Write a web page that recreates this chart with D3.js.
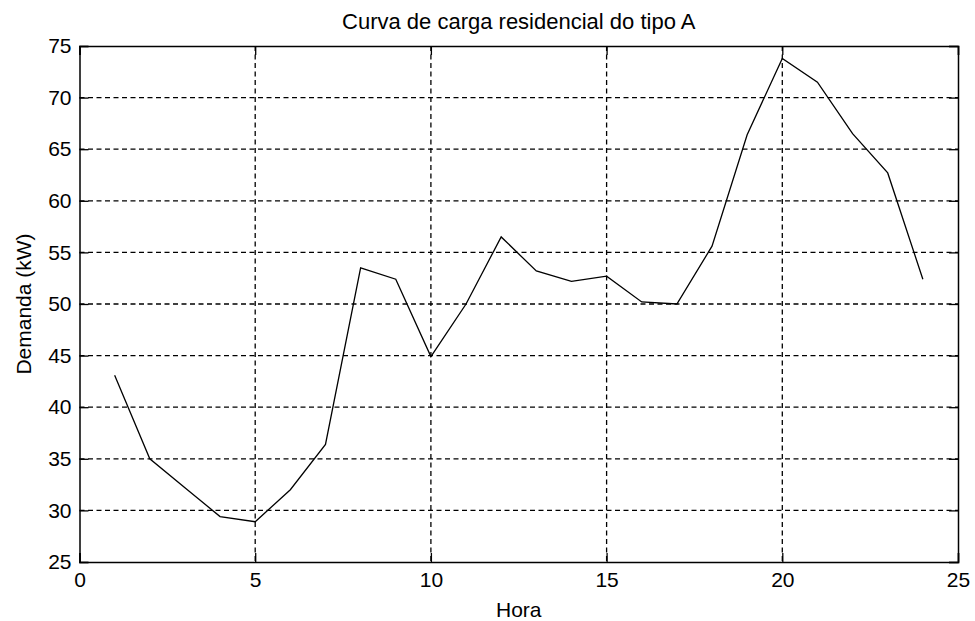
<!DOCTYPE html>
<html>
<head>
<meta charset="utf-8">
<script src="https://cdn.jsdelivr.net/npm/d3@7"></script>
<style>
body{margin:0;background:#fff;}
text{font-family:"Liberation Sans",Arial,sans-serif;fill:#000;}
</style>
</head>
<body>
<svg id="chart" width="975" height="621"></svg>
<script>
const hours=[1,2,3,4,5,6,7,8,9,10,11,12,13,14,15,16,17,18,19,20,21,22,23,24];
const demand=[43.1,35.0,32.2,29.4,28.9,32.0,36.4,53.5,52.4,44.9,50.0,56.5,53.2,52.2,52.7,50.2,50.0,55.6,66.4,73.8,71.5,66.5,62.7,52.4];
const xTicks=[0,5,10,15,20,25];
const yTicks=[25,30,35,40,45,50,55,60,65,70,75];

const svg=d3.select("#chart");
const margin={top:46,right:17,bottom:59,left:79.5};
const width=+svg.attr("width")-margin.left-margin.right;
const height=+svg.attr("height")-margin.top-margin.bottom;
const g=svg.append("g").attr("transform",`translate(${margin.left},${margin.top})`);

const x=d3.scaleLinear().domain([0,25]).range([0,width]);
const y=d3.scaleLinear().domain([25,75]).range([height,0]);

// grid
g.append("g")
    .selectAll("line")
    .data(xTicks.slice(1,-1))
    .enter().append("line")
    .attr("x1",d=>x(d)).attr("x2",d=>x(d))
    .attr("y1",0).attr("y2",height)
    .attr("stroke","#000").attr("stroke-width",1.3)
    .attr("stroke-dasharray","5,3.5");
g.append("g")
    .selectAll("line")
    .data(yTicks.slice(1,-1))
    .enter().append("line")
    .attr("x1",0).attr("x2",width)
    .attr("y1",d=>y(d)).attr("y2",d=>y(d))
    .attr("stroke","#000").attr("stroke-width",1.3)
    .attr("stroke-dasharray","5,3.5");

// axes with inward ticks
const tk=9;
const ax=g.append("g")
    .attr("transform",`translate(0,${height})`)
    .call(d3.axisBottom(x).tickValues(xTicks).tickSize(-tk).tickPadding(10));
const ay=g.append("g")
    .call(d3.axisLeft(y).tickValues(yTicks).tickSize(-tk).tickPadding(8));
const at=g.append("g")
    .call(d3.axisTop(x).tickValues(xTicks).tickSize(-tk).tickFormat(""));
const ar=g.append("g")
    .attr("transform",`translate(${width},0)`)
    .call(d3.axisRight(y).tickValues(yTicks).tickSize(-tk).tickFormat(""));
[ax,ay,at,ar].forEach(a=>{
    a.select(".domain").attr("stroke","#000").attr("stroke-width",1.5);
    a.selectAll(".tick line").attr("stroke","#000").attr("stroke-width",1.3);
    a.selectAll("text").attr("font-size",21).attr("font-family","Liberation Sans, Arial, sans-serif").attr("fill","#000");
});

// line
const line=d3.line()
    .x((d,i)=>x(hours[i]))
    .y(d=>y(d));
g.append("path")
    .datum(demand)
    .attr("fill","none")
    .attr("stroke","#000")
    .attr("stroke-width",1.3)
    .attr("d",line);

// labels
svg.append("text")
    .attr("x",margin.left+width/2).attr("y",29)
    .attr("text-anchor","middle").attr("font-size",22)
    .text("Curva de carga residencial do tipo A");
svg.append("text")
    .attr("x",margin.left+width/2).attr("y",617)
    .attr("text-anchor","middle").attr("font-size",21)
    .text("Hora");
svg.append("text")
    .attr("transform",`translate(31,${margin.top+height/2}) rotate(-90)`)
    .attr("text-anchor","middle").attr("font-size",21)
    .text("Demanda (kW)");
</script>
</body>
</html>
